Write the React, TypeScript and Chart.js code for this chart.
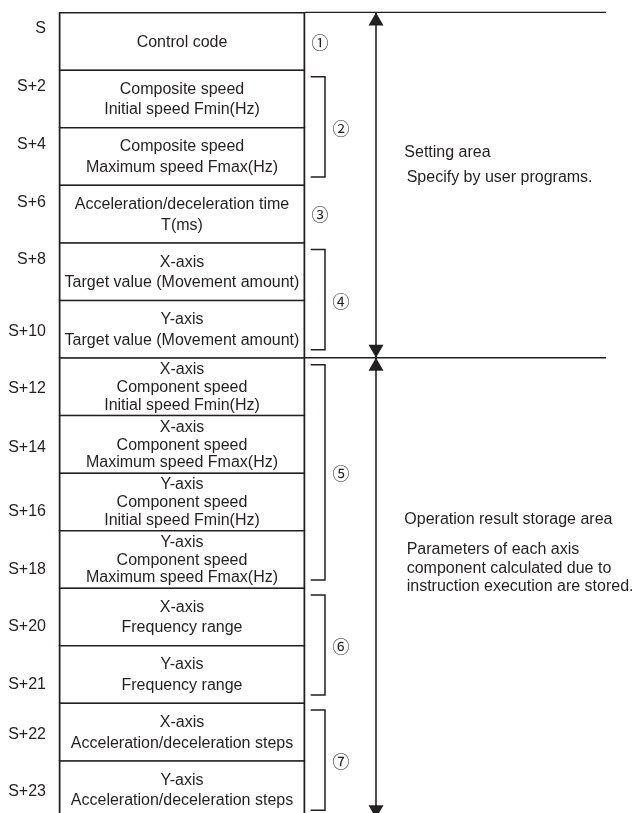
import React, { useEffect, useRef } from 'react';
import { Chart, registerables } from 'chart.js';

Chart.register(...registerables);

// ---------- data ----------
const addressLabels = ['S', 'S+2', 'S+4', 'S+6', 'S+8', 'S+10', 'S+12', 'S+14', 'S+16', 'S+18', 'S+20', 'S+21', 'S+22', 'S+23'];
// row position (in rows from the top of the table) at which each address label sits
const addressTickRows = [0.276, 1.291, 2.29, 3.303, 4.302, 5.547, 6.539, 7.553, 8.68, 9.679, 10.672, 11.671, 12.554, 13.539];

const cellLines: string[][] = [
  ['Control code'],
  ['Composite speed', 'Initial speed Fmin(Hz)'],
  ['Composite speed', 'Maximum speed Fmax(Hz)'],
  ['Acceleration/deceleration time', 'T(ms)'],
  ['X-axis', 'Target value (Movement amount)'],
  ['Y-axis', 'Target value (Movement amount)'],
  ['X-axis', 'Component speed', 'Initial speed Fmin(Hz)'],
  ['X-axis', 'Component speed', 'Maximum speed Fmax(Hz)'],
  ['Y-axis', 'Component speed', 'Initial speed Fmin(Hz)'],
  ['Y-axis', 'Component speed', 'Maximum speed Fmax(Hz)'],
  ['X-axis', 'Frequency range'],
  ['Y-axis', 'Frequency range'],
  ['X-axis', 'Acceleration/deceleration steps'],
  ['Y-axis', 'Acceleration/deceleration steps'],
];

const groupMarks = ['①', '②', '③', '④', '⑤', '⑥', '⑦'];
const groupFirstRow = [0, 1, 3, 4, 6, 10, 12];
const groupRowCount = [1, 2, 1, 2, 4, 2, 2];

const areaFirstRow = [0, 6];
const areaRowCount = [6, 8];
const areaTitles = ['Setting area', 'Operation result storage area'];
const areaNotes: string[][] = [
  ['Specify by user programs.'],
  ['Parameters of each axis', 'component calculated due to', 'instruction execution are stored.'],
];

// ---------- layout / style (not data) ----------
const INK = '#231f20';
const FONT = '16px "Liberation Sans", Arial, Helvetica, sans-serif';
const MARK_FONT = '17px "Noto Sans CJK JP", "DejaVu Sans", sans-serif';
const L = {
  xMin: -0.23984,
  xMax: 2.3374,
  yMin: -0.2154,
  yMax: 13.909,
  labelX: -0.0528,
  bracketX0: 1.0232,
  bracketX1: 1.0813,
  bracketInsetTop: 0.12,
  bracketInsetBottom: 0.14,
  markXSingle: 1.061,
  markXGroup: 1.1463,
  arrowX: 1.2886,
  ruleEnd: 2.2236,
  noteX: [1.4037, 1.4134],
  titleRow: [2.42, 8.801],
  noteRows: [[2.854], [9.322, 9.647, 9.96]],
  arrowW: 15,
  arrowH: 13,
};

const diagramPlugin = {
  id: 'diagramText',
  afterDatasetsDraw(chart: any) {
    const { ctx, scales } = chart;
    const x = scales.x;
    const y = scales.y;
    ctx.save();
    ctx.fillStyle = INK;

    // arrowheads
    areaFirstRow.forEach((start, i) => {
      const ax = x.getPixelForValue(L.arrowX);
      const top = y.getPixelForValue(start);
      const bot = y.getPixelForValue(start + areaRowCount[i]);
      ctx.beginPath();
      ctx.moveTo(ax, top);
      ctx.lineTo(ax - L.arrowW / 2, top + L.arrowH);
      ctx.lineTo(ax + L.arrowW / 2, top + L.arrowH);
      ctx.closePath();
      ctx.fill();
      ctx.beginPath();
      ctx.moveTo(ax, bot);
      ctx.lineTo(ax - L.arrowW / 2, bot - L.arrowH);
      ctx.lineTo(ax + L.arrowW / 2, bot - L.arrowH);
      ctx.closePath();
      ctx.fill();
    });

    // cell texts
    ctx.font = FONT;
    ctx.textAlign = 'center';
    ctx.textBaseline = 'middle';
    cellLines.forEach((lines, i) => {
      const cx = x.getPixelForValue(0.5);
      const cy = y.getPixelForValue(i + 0.5);
      const lh = lines.length >= 3 ? 17.8 : 20.5;
      lines.forEach((t, k) => {
        ctx.fillText(t, cx, cy + 1 + (k - (lines.length - 1) / 2) * lh);
      });
    });

    // address labels
    ctx.textAlign = 'right';
    addressLabels.forEach((t, i) => {
      ctx.fillText(t, x.getPixelForValue(L.labelX), y.getPixelForValue(addressTickRows[i]));
    });

    // area notes
    ctx.textAlign = 'left';
    areaTitles.forEach((t, i) => {
      ctx.fillText(t, x.getPixelForValue(L.noteX[0]), y.getPixelForValue(L.titleRow[i]) + 1);
      areaNotes[i].forEach((n, k) => {
        ctx.fillText(n, x.getPixelForValue(L.noteX[1]), y.getPixelForValue(L.noteRows[i][k]) + 1);
      });
    });

    // group marks
    ctx.font = MARK_FONT;
    ctx.textAlign = 'center';
    groupMarks.forEach((m, i) => {
      const mx = groupRowCount[i] > 1 ? L.markXGroup : L.markXSingle;
      const my = groupFirstRow[i] + groupRowCount[i] / 2;
      ctx.fillText(m, x.getPixelForValue(mx), y.getPixelForValue(my) + 1);
    });

    ctx.restore();
  },
};

function lineDataset(points: { x: number; y: number }[], width = 1.5) {
  return {
    type: 'line' as const,
    data: points,
    borderColor: INK,
    borderWidth: width,
    pointRadius: 0,
    fill: false,
    tension: 0,
    order: 0,
  };
}

export default function App() {
  const ref = useRef<HTMLCanvasElement | null>(null);

  useEffect(() => {
    document.body.style.margin = '0';
    if (!ref.current) return;

    const barData = cellLines.map((_, i) => ({ x: [0, 1], y: i + 0.5 }));

    const lineSets: any[] = [];
    // horizontal rules at area boundaries
    const boundaries = [...areaFirstRow, areaFirstRow[areaFirstRow.length - 1] + areaRowCount[areaRowCount.length - 1]];
    boundaries.forEach((b) => {
      lineSets.push(lineDataset([{ x: 1, y: b }, { x: L.ruleEnd, y: b }], 1.4));
    });
    // arrows
    areaFirstRow.forEach((s, i) => {
      lineSets.push(lineDataset([{ x: L.arrowX, y: s }, { x: L.arrowX, y: s + areaRowCount[i] }], 1.6));
    });
    // brackets
    groupFirstRow.forEach((s, i) => {
      if (groupRowCount[i] < 2) return;
      const t = s + L.bracketInsetTop;
      const b = s + groupRowCount[i] - L.bracketInsetBottom;
      lineSets.push(
        lineDataset(
          [
            { x: L.bracketX0, y: t },
            { x: L.bracketX1, y: t },
            { x: L.bracketX1, y: b },
            { x: L.bracketX0, y: b },
          ],
          1.5
        )
      );
    });

    const chart = new Chart(ref.current, {
      type: 'bar',
      data: {
        datasets: [
          {
            type: 'bar',
            data: barData as any,
            backgroundColor: '#ffffff',
            borderColor: INK,
            borderWidth: { top: 1.5, bottom: 1, left: 2, right: 2 } as any,
            borderSkipped: false,
            barPercentage: 1,
            categoryPercentage: 1,
            inflateAmount: 0.5,
            order: 1,
          } as any,
          ...lineSets,
        ],
      },
      options: {
        indexAxis: 'y',
        responsive: false,
        animation: false,
        devicePixelRatio: 1,
        events: [],
        layout: { padding: 0 },
        plugins: { legend: { display: false }, tooltip: { enabled: false } },
        scales: {
          x: { type: 'linear', min: L.xMin, max: L.xMax, offset: false, display: false },
          y: { type: 'linear', min: L.yMin, max: L.yMax, reverse: true, offset: false, display: false },
        },
      } as any,
      plugins: [diagramPlugin],
    });

    return () => chart.destroy();
  }, []);

  return (
    <div style={{ width: 634, height: 813, background: '#ffffff' }}>
      <canvas ref={ref} width={634} height={813} style={{ display: 'block' }} />
    </div>
  );
}
